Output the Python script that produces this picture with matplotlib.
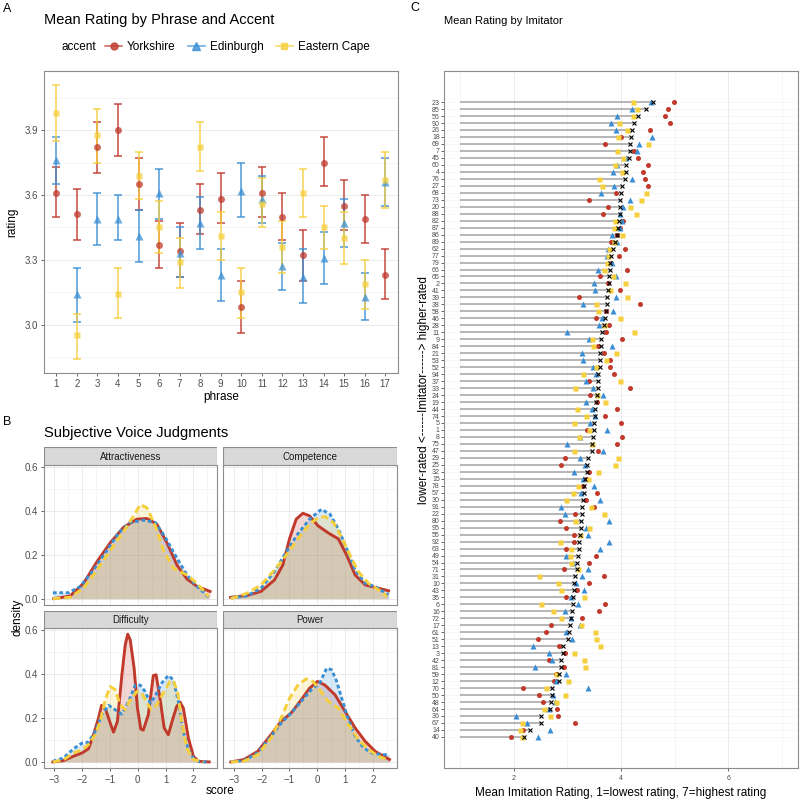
import numpy as np
import matplotlib
matplotlib.use("Agg")
import matplotlib.pyplot as plt
from matplotlib.lines import Line2D
from matplotlib.patches import Rectangle

plt.rcParams['font.family'] = ['Liberation Sans', 'DejaVu Sans']

# ---------------- data: panel A ----------------
phrases = list(range(1, 18))
accents = ['Yorkshire', 'Edinburgh', 'Eastern Cape']

york_mean = [3.61, 3.51, 3.82, 3.90, 3.65, 3.37, 3.34, 3.53, 3.58, 3.08, 3.61, 3.50, 3.32, 3.75, 3.55, 3.49, 3.23]
york_lo = [3.50, 3.39, 3.70, 3.78, 3.53, 3.26, 3.22, 3.42, 3.47, 2.96, 3.50, 3.39, 3.20, 3.64, 3.44, 3.38, 3.12]
york_hi = [3.73, 3.63, 3.94, 4.02, 3.77, 3.48, 3.47, 3.65, 3.70, 3.20, 3.73, 3.61, 3.44, 3.87, 3.67, 3.60, 3.35]

edin_mean = [3.76, 3.14, 3.49, 3.49, 3.41, 3.61, 3.33, 3.47, 3.23, 3.62, 3.58, 3.27, 3.22, 3.31, 3.47, 3.13, 3.66]
edin_lo = [3.65, 3.01, 3.37, 3.39, 3.29, 3.49, 3.22, 3.35, 3.11, 3.50, 3.47, 3.16, 3.10, 3.19, 3.36, 3.02, 3.55]
edin_hi = [3.87, 3.26, 3.61, 3.60, 3.53, 3.72, 3.45, 3.59, 3.35, 3.75, 3.69, 3.38, 3.35, 3.43, 3.58, 3.24, 3.77]

ecap_mean = [3.98, 2.95, 3.88, 3.14, 3.69, 3.45, 3.29, 3.82, 3.41, 3.15, 3.56, 3.36, 3.61, 3.45, 3.40, 3.19, 3.67]
ecap_lo = [3.85, 2.84, 3.75, 3.03, 3.58, 3.33, 3.17, 3.71, 3.30, 3.03, 3.45, 3.24, 3.50, 3.35, 3.28, 3.07, 3.54]
ecap_hi = [4.11, 3.05, 4.00, 3.26, 3.80, 3.57, 3.40, 3.94, 3.52, 3.26, 3.68, 3.48, 3.72, 3.55, 3.52, 3.30, 3.80]

# ---------------- data: panel B (density curves) ----------------
traits = ['Attractiveness', 'Competence', 'Difficulty', 'Power']

attr_y_x = [-3.02, -2.43, -1.95, -1.47, -0.99, -0.51, -0.03, 0.33, 0.69, 1.05, 1.41, 1.77, 2.13, 2.60]
attr_y_d = [0.0, 0.012, 0.07, 0.168, 0.255, 0.326, 0.363, 0.366, 0.34, 0.255, 0.153, 0.09, 0.056, 0.033]
attr_e_x = [-3.05, -2.49, -2.07, -1.59, -1.11, -0.69, -0.27, 0.21, 0.63, 0.99, 1.35, 1.77, 2.13, 2.55]
attr_e_d = [0.027, 0.027, 0.055, 0.13, 0.22, 0.30, 0.348, 0.358, 0.348, 0.28, 0.198, 0.108, 0.056, 0.008]
attr_c_x = [-3.05, -2.43, -1.95, -1.47, -0.99, -0.51, -0.15, 0.09, 0.33, 0.63, 0.93, 1.29, 1.77, 2.13, 2.55]
attr_c_d = [0.0, 0.006, 0.048, 0.13, 0.22, 0.306, 0.378, 0.43, 0.415, 0.333, 0.22, 0.138, 0.108, 0.07, 0.01]

comp_y_x = [-3.11, -2.51, -2.02, -1.54, -1.24, -1.0, -0.76, -0.52, -0.28, 0.02, 0.39, 0.75, 1.05, 1.35, 1.71, 2.07, 2.55]
comp_y_d = [0.006, 0.015, 0.033, 0.085, 0.153, 0.273, 0.363, 0.39, 0.378, 0.333, 0.30, 0.273, 0.198, 0.108, 0.063, 0.051, 0.036]
comp_e_x = [-3.1, -2.51, -2.02, -1.54, -1.12, -0.7, -0.28, 0.14, 0.45, 0.75, 1.05, 1.35, 1.71, 2.07, 2.43, 2.55]
comp_e_d = [0.003, 0.013, 0.048, 0.123, 0.213, 0.296, 0.363, 0.408, 0.386, 0.318, 0.228, 0.13, 0.07, 0.055, 0.026, 0.018]
comp_c_x = [-3.1, -2.51, -2.02, -1.54, -1.12, -0.7, -0.28, 0.02, 0.27, 0.57, 0.87, 1.17, 1.47, 1.83, 2.19, 2.49]
comp_c_d = [0.0, 0.025, 0.063, 0.13, 0.198, 0.273, 0.34, 0.37, 0.375, 0.348, 0.28, 0.198, 0.123, 0.07, 0.04, 0.01]

diff_y_x = [-3.05, -2.67, -2.31, -2.0, -1.77, -1.59, -1.41, -1.3, -1.15, -0.97, -0.87, -0.73, -0.57, -0.45, -0.36,
            -0.27, -0.13, -0.01, 0.11, 0.2, 0.38, 0.56, 0.66, 0.8, 0.95, 1.1, 1.25, 1.4, 1.52, 1.64, 1.82, 2.0, 2.18, 2.57]
diff_y_d = [0.0, 0.006, 0.026, 0.041, 0.06, 0.124, 0.2, 0.258, 0.238, 0.17, 0.136, 0.185, 0.397, 0.533, 0.582,
            0.556, 0.427, 0.245, 0.15, 0.145, 0.215, 0.394, 0.397, 0.29, 0.155, 0.124, 0.192, 0.253, 0.273, 0.245,
            0.109, 0.026, 0.003, 0.0]
diff_e_x = [-3.05, -2.67, -2.31, -2.0, -1.77, -1.53, -1.29, -1.05, -0.81, -0.57, -0.33, -0.09, 0.09, 0.27, 0.45,
            0.62, 0.86, 1.1, 1.28, 1.46, 1.64, 1.82, 2.0, 2.24, 2.57]
diff_e_d = [0.003, 0.018, 0.06, 0.086, 0.09, 0.14, 0.215, 0.258, 0.238, 0.218, 0.275, 0.35, 0.35, 0.32, 0.268,
            0.298, 0.359, 0.394, 0.374, 0.276, 0.139, 0.056, 0.018, 0.0, 0.0]
diff_c_x = [-3.05, -2.67, -2.31, -2.0, -1.77, -1.53, -1.35, -1.17, -0.99, -0.81, -0.63, -0.45, -0.27, -0.03, 0.15,
            0.33, 0.5, 0.68, 0.92, 1.16, 1.28, 1.43, 1.58, 1.76, 2.0, 2.36]
diff_c_d = [0.0, 0.009, 0.041, 0.056, 0.079, 0.124, 0.185, 0.283, 0.344, 0.329, 0.26, 0.238, 0.283, 0.321, 0.314,
            0.268, 0.238, 0.26, 0.314, 0.367, 0.37, 0.321, 0.185, 0.064, 0.011, 0.0]

powr_y_x = [-3.1, -2.63, -2.14, -1.66, -1.3, -0.94, -0.58, -0.28, 0.0, 0.27, 0.63, 0.99, 1.35, 1.71, 2.07, 2.58]
powr_y_d = [0.0, 0.011, 0.048, 0.124, 0.185, 0.223, 0.283, 0.336, 0.367, 0.35, 0.306, 0.23, 0.155, 0.094, 0.048, 0.011]
powr_e_x = [-3.1, -2.63, -2.14, -1.66, -1.3, -0.94, -0.58, -0.22, 0.08, 0.33, 0.51, 0.69, 0.87, 1.11, 1.35, 1.65,
            1.95, 2.31, 2.58]
powr_e_d = [0.0, 0.006, 0.041, 0.117, 0.177, 0.223, 0.276, 0.329, 0.359, 0.427, 0.42, 0.367, 0.29, 0.192, 0.117,
            0.064, 0.041, 0.033, 0.033]
powr_c_x = [-3.1, -2.63, -2.14, -1.66, -1.3, -1.0, -0.7, -0.4, -0.16, 0.08, 0.39, 0.75, 1.11, 1.47, 1.83, 2.19, 2.49]
powr_c_d = [0.0, 0.003, 0.033, 0.109, 0.2, 0.29, 0.35, 0.379, 0.367, 0.329, 0.276, 0.245, 0.17, 0.102, 0.056,
            0.026, 0.011]

# ---------------- data: panel C ----------------
imitators = [23, 85, 56, 90, 26, 18, 69, 7, 45, 60, 4, 76, 27, 68, 73, 20, 88, 82, 87, 86, 89, 62, 77, 79, 66, 65,
             2, 41, 39, 38, 58, 46, 28, 11, 9, 84, 21, 53, 52, 94, 37, 33, 24, 19, 44, 74, 5, 1, 8, 75, 47, 29, 25,
             32, 15, 78, 57, 30, 91, 22, 80, 95, 55, 92, 63, 49, 54, 71, 31, 10, 43, 35, 6, 16, 72, 17, 61, 51, 13,
             3, 42, 81, 59, 12, 70, 50, 48, 64, 36, 67, 14, 40]
imit_mean = [4.59, 4.46, 4.31, 4.24, 4.20, 4.18, 4.17, 4.16, 4.15, 4.10, 4.09, 4.08, 4.01, 4.00, 3.98, 3.98, 3.98,
             3.97, 3.95, 3.93, 3.89,
             3.85, 3.82, 3.80, 3.79, 3.78, 3.77, 3.76, 3.74, 3.73, 3.72, 3.71, 3.68, 3.65, 3.63, 3.62, 3.61, 3.61,
             3.60, 3.58, 3.58, 3.57, 3.55, 3.53, 3.52, 3.51, 3.50, 3.50, 3.48, 3.46, 3.45, 3.38, 3.36, 3.36, 3.33,
             3.31, 3.31, 3.30,
             3.28, 3.27, 3.25, 3.25, 3.23, 3.22, 3.21, 3.19, 3.18, 3.18, 3.15, 3.13, 3.12, 3.10, 3.10, 3.09, 3.07,
             3.04, 3.03, 3.02, 2.92, 2.91, 2.89, 2.89, 2.85, 2.85, 2.72, 2.72, 2.70, 2.68, 2.51, 2.51, 2.31, 2.19]
imit_york = [4.99, 4.87, 4.82, 4.91, 4.54, 4.00, 3.71, 4.25, 4.32, 4.50, 4.41, 4.44, 4.51, 3.91, 3.40, 3.76, 3.67,
             4.03, 3.98, 3.93, 3.81,
             4.07, 3.97, 3.81, 4.11, 3.61, 3.76, 3.99, 3.21, 4.35, 3.72, 3.53, 3.78, 3.72, 4.02, 3.58, 3.69, 3.80,
             3.80, 3.87, 3.40, 4.16, 3.43, 3.55, 3.92, 3.70, 4.00, 3.37, 4.02, 3.92, 3.57, 2.95, 2.89, 3.41, 3.35,
             3.29, 3.55, 3.35,
             3.49, 3.15, 2.86, 2.97, 3.13, 3.12, 2.97, 3.54, 3.40, 2.93, 3.68, 3.41, 3.18, 2.97, 3.70, 3.59, 3.27,
             2.70, 2.60, 2.45, 2.84, 2.96, 2.66, 2.94, 2.78, 2.76, 2.17, 2.47, 2.55, 2.81, 2.83, 3.14, 2.17, 1.94]
imit_edin = [4.56, 4.20, 3.93, 3.82, 3.90, 4.57, 4.33, 4.29, 4.10, 3.93, 3.85, 4.21, 3.87, 3.63, 4.17, 4.03, 3.98,
             4.01, 3.98, 3.84, 3.92,
             3.75, 3.74, 3.84, 3.58, 3.90, 3.49, 3.51, 3.90, 3.29, 3.85, 3.64, 3.59, 2.99, 3.41, 3.83, 3.28, 3.30,
             3.48, 3.53, 3.35, 3.47, 3.66, 3.35, 3.46, 3.52, 3.43, 3.73, 3.23, 3.00, 3.66, 3.23, 3.33, 3.12, 3.29,
             3.50, 3.25, 3.60,
             2.89, 2.95, 3.78, 3.35, 3.38, 3.78, 3.61, 2.97, 3.10, 3.38, 3.28, 3.17, 3.31, 3.07, 3.19, 2.96, 3.07,
             3.23, 2.97, 3.08, 2.35, 2.66, 2.71, 2.40, 2.97, 2.79, 3.38, 2.73, 2.77, 2.66, 2.05, 2.24, 2.67, 2.46]
imit_ecap = [4.22, 4.29, 4.23, 3.97, 4.11, 3.95, 4.50, 3.92, 4.03, 3.88, 4.01, 3.59, 3.64, 4.47, 4.38, 4.16, 4.28,
             3.88, 3.87, 4.02, 3.87,
             3.77, 3.76, 3.73, 3.68, 3.85, 4.07, 3.80, 4.11, 3.53, 3.57, 3.98, 3.68, 4.24, 3.46, 3.48, 3.90, 3.72,
             3.53, 3.29, 3.98, 3.15, 3.55, 3.71, 3.18, 3.34, 3.12, 3.41, 3.21, 3.45, 3.13, 3.95, 3.88, 3.58, 3.38,
             3.20, 3.11, 2.98,
             3.44, 3.69, 3.15, 3.41, 3.23, 2.87, 3.07, 3.05, 3.07, 3.19, 2.48, 2.83, 2.89, 3.31, 2.50, 2.74, 2.89,
             3.25, 3.52, 3.53, 3.60, 3.12, 3.31, 3.33, 2.79, 3.02, 2.61, 2.96, 2.78, 2.56, 2.68, 2.16, 2.11, 2.15]

# ---------------- style ----------------
RED, BLUE, YEL = '#C0392B', '#3A8FD4', '#F6CF3C'
cols = [RED, BLUE, YEL]
marks = ['o', '^', 's']
GRID = '#ebebeb'
TXT = '#4d4d4d'

W, H = 800, 799
fig = plt.figure(figsize=(W / 100, H / 100), dpi=100)


def box(x0, y0, x1, y1):
    # axes placed in pixel coordinates of the figure
    return fig.add_axes([x0 / W, 1 - y1 / H, (x1 - x0) / W, (y1 - y0) / H])


def style(ax, size=7):
    for s in ax.spines.values():
        s.set_color('#8c8c8c')
        s.set_linewidth(0.8)
    ax.tick_params(colors=TXT, length=2.5, width=0.6, labelsize=size, pad=2)
    ax.tick_params(which='minor', length=0)
    ax.grid(which='major', color=GRID, lw=0.7)
    ax.grid(which='minor', color='#f2f2f2', lw=0.5)
    ax.set_axisbelow(True)


# ---------------- panel A ----------------
axA = box(44, 71, 397.5, 373)
style(axA)
groups = [(york_mean, york_lo, york_hi), (edin_mean, edin_lo, edin_hi), (ecap_mean, ecap_lo, ecap_hi)]
msz = [5, 6, 5]
for (m, lo, hi), c, mk, ms in zip(groups, cols, marks, msz):
    m, lo, hi = np.array(m), np.array(lo), np.array(hi)
    axA.errorbar(phrases, m, yerr=[m - lo, hi - m], fmt='none', ecolor=c, elinewidth=1.1,
                 capsize=3, capthick=1.1, alpha=0.9)
for (m, lo, hi), c, mk, ms in zip(groups, cols, marks, msz):
    axA.plot(phrases, m, ls='none', marker=mk, color=c, ms=ms, alpha=0.75, mec='none')
axA.set_xlim(0.4, 17.6)
axA.set_ylim(2.776, 4.174)
axA.set_xticks(phrases)
axA.set_yticks([3.0, 3.3, 3.6, 3.9])
axA.set_yticks([2.85, 3.15, 3.45, 3.75, 4.05], minor=True)
axA.xaxis.grid(False)
axA.set_xlabel('phrase', fontsize=8.5, labelpad=1)
axA.set_ylabel('rating', fontsize=8.5, labelpad=4)

handles = [Line2D([], [], color=c, marker=mk, ms=ms, lw=1.1, alpha=0.8) for c, mk, ms in zip(cols, marks, msz)]
fig.legend(handles, accents, loc='center left', bbox_to_anchor=(100 / W, 1 - 47 / H), ncol=3, frameon=False,
           fontsize=8.5, handlelength=1.5, handletextpad=0.4, columnspacing=1.0, borderaxespad=0)
fig.text(62 / W, 1 - 47 / H, 'accent', fontsize=8.5, va='center', ha='left')

# ---------------- panel B ----------------
curves = {
    'Attractiveness': [(attr_y_x, attr_y_d), (attr_e_x, attr_e_d), (attr_c_x, attr_c_d)],
    'Competence': [(comp_y_x, comp_y_d), (comp_e_x, comp_e_d), (comp_c_x, comp_c_d)],
    'Difficulty': [(diff_y_x, diff_y_d), (diff_e_x, diff_e_d), (diff_c_x, diff_c_d)],
    'Power': [(powr_y_x, powr_y_d), (powr_e_x, powr_e_d), (powr_c_x, powr_c_d)],
}
line_kw = [dict(ls='-'), dict(dashes=(1.3, 0.9)), dict(dashes=(2.6, 1.3))]
cells = [(44, 217.3, 447.3, 465.3, 605), (223.3, 397.3, 447.3, 465.3, 605),
         (44, 217.3, 610.7, 628.3, 768.3), (223.3, 397.3, 610.7, 628.3, 768.3)]
for i, (name, (x0, x1, s0, y0, y1)) in enumerate(zip(traits, cells)):
    ax = box(x0, y0, x1, y1)
    style(ax)
    for (xs, ds), c, kw in zip(curves[name], cols, line_kw):
        ax.fill_between(xs, 0, ds, color=c, alpha=0.2, lw=0)
        ax.plot(xs, ds, color=c, lw=2.1, **kw)
    ax.set_xlim(-3.37, 2.86)
    ax.set_ylim(-0.029, 0.609)
    ax.set_xticks([-3, -2, -1, 0, 1, 2])
    ax.set_xticks([-2.5, -1.5, -0.5, 0.5, 1.5, 2.5], minor=True)
    ax.set_yticks([0.0, 0.2, 0.4, 0.6])
    ax.set_yticks([0.1, 0.3, 0.5], minor=True)
    ax.yaxis.set_major_formatter(plt.FormatStrFormatter('%.1f'))
    if i % 2:
        ax.tick_params(labelleft=False, left=False)
    if i < 2:
        ax.tick_params(labelbottom=False, bottom=False)
    st = box(x0, s0, x1, y0)
    st.add_patch(Rectangle((0, 0), 1, 1, transform=st.transAxes, fc='#d9d9d9', ec='#8c8c8c', lw=0.8))
    st.text(0.5, 0.45, name, ha='center', va='center', fontsize=7, color='#1a1a1a', transform=st.transAxes)
    st.set_axis_off()

fig.text(220 / W, 1 - 791 / H, 'score', fontsize=8.5, ha='center', va='center')
fig.text(17 / W, 1 - 617 / H, 'density', fontsize=8.5, ha='center', va='center', rotation=90)

# ---------------- panel C ----------------
axC = box(444, 70.7, 798, 768.3)
style(axC, size=5)
rows = np.arange(1, len(imitators) + 1)
axC.hlines(rows, 1, imit_mean, color='#aaaaaa', lw=1.2, zorder=2)
axC.plot(imit_york, rows, ls='none', marker='o', color=RED, ms=3.6, mec='none', zorder=3)
axC.plot(imit_edin, rows, ls='none', marker='^', color=BLUE, ms=4.3, mec='none', zorder=3)
axC.plot(imit_ecap, rows, ls='none', marker='s', color=YEL, ms=3.6, mec='none', zorder=3)
axC.plot(imit_mean, rows, ls='none', marker='x', color='black', ms=3.2, mew=0.8, zorder=4)
axC.set_xlim(0.7, 7.3)
axC.set_ylim(len(imitators) + 4.5, 1 - 4.5)
axC.set_xticks([2, 4, 6])
axC.set_xticks([1, 3, 5, 7], minor=True)
axC.set_yticks(rows)
axC.set_yticklabels([str(v) for v in imitators])
axC.tick_params(axis='y', length=2, pad=1)
axC.grid(which='major', axis='y', color='#f0f0f0', lw=0.4)
axC.set_xlabel('Mean Imitation Rating, 1=lowest rating, 7=highest rating', fontsize=8.5, labelpad=4)
fig.text(424 / W, 1 - 390 / H, 'lower-rated <------Imitator------> higher-rated', fontsize=8.5,
         ha='center', va='center', rotation=90)

# ---------------- titles and panel tags ----------------
fig.text(44 / W, 1 - 20 / H, 'Mean Rating by Phrase and Accent', fontsize=10.5, va='center')
fig.text(44 / W, 1 - 433 / H, 'Subjective Voice Judgments', fontsize=10.5, va='center')
fig.text(444 / W, 1 - 21 / H, 'Mean Rating by Imitator', fontsize=8, va='center')
fig.text(3 / W, 1 - 9 / H, 'A', fontsize=9, va='center')
fig.text(3 / W, 1 - 422 / H, 'B', fontsize=9, va='center')
fig.text(410 / W, 1 - 8 / H, 'C', fontsize=9, va='center')

fig.savefig('out.png', dpi=100)
